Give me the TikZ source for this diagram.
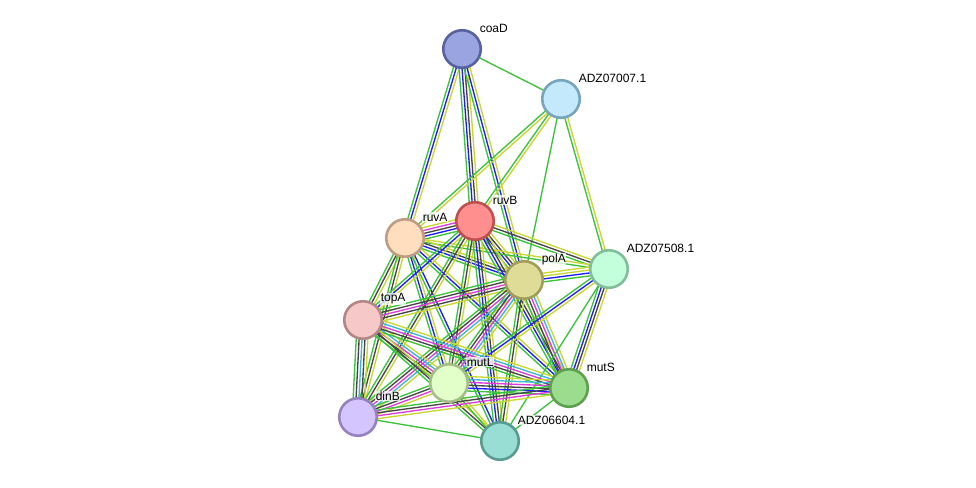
\documentclass[tikz,border=0pt]{standalone}
\usepackage{fontspec}
\newfontfamily\labfont{Liberation Sans}
\usetikzlibrary{calc,backgrounds}
\definecolor{eg}{RGB}{60,195,60}
\definecolor{eb}{RGB}{30,30,250}
\definecolor{ey}{RGB}{200,215,50}
\definecolor{ek}{RGB}{70,70,70}
\definecolor{em}{RGB}{220,60,220}
\definecolor{ec}{RGB}{60,180,220}
\definecolor{fcoaD}{RGB}{154,164,224}\definecolor{dcoaD}{RGB}{88,98,160}
\definecolor{fA7}{RGB}{196,233,252}\definecolor{dA7}{RGB}{120,165,190}
\definecolor{fruvB}{RGB}{255,142,142}\definecolor{druvB}{RGB}{190,80,80}
\definecolor{fruvA}{RGB}{255,222,192}\definecolor{druvA}{RGB}{190,158,128}
\definecolor{fpolA}{RGB}{222,220,150}\definecolor{dpolA}{RGB}{160,158,90}
\definecolor{fA5}{RGB}{196,255,220}\definecolor{dA5}{RGB}{130,190,155}
\definecolor{ftopA}{RGB}{246,200,200}\definecolor{dtopA}{RGB}{180,135,135}
\definecolor{fmutL}{RGB}{226,255,202}\definecolor{dmutL}{RGB}{165,190,135}
\definecolor{fmutS}{RGB}{156,220,142}\definecolor{dmutS}{RGB}{95,160,80}
\definecolor{fdinB}{RGB}{212,196,255}\definecolor{ddinB}{RGB}{150,130,190}
\definecolor{fA6}{RGB}{152,222,212}\definecolor{dA6}{RGB}{90,155,145}
\newcommand\bundle[4]{%
  \foreach \col [count=\i] in {#4}{%
    \pgfmathsetmacro\off{(\i-(#3+1)/2)*2.9}%
    \draw[\col, line width=1.35pt] ($(#1)!\off pt!90:(#2)$) -- ($(#2)!\off pt!-90:(#1)$);
  }}
\tikzset{
  prot/.style={circle, minimum size=37.5pt, inner sep=0pt, line width=2.6pt, fill=f#1, draw=d#1},
  lab/.style={anchor=west, font=\labfont\fontsize{12}{14}\selectfont, inner sep=0.6pt, fill=white, fill opacity=0.75, text opacity=1}
}
\begin{document}
\begin{tikzpicture}[x=1pt,y=-1pt]
\useasboundingbox (0,0) rectangle (976,487);
% nodes
\node[prot=coaD] (coaD) at (462,49) {};
\node[prot=A7] (A7) at (561,99) {};
\node[prot=ruvB] (ruvB) at (475,221) {};
\node[prot=ruvA] (ruvA) at (405,238) {};
\node[prot=polA] (polA) at (524,280) {};
\node[prot=A5] (A5) at (609,269) {};
\node[prot=topA] (topA) at (363,320) {};
\node[prot=mutL] (mutL) at (449,383) {};
\node[prot=mutS] (mutS) at (569,388) {};
\node[prot=dinB] (dinB) at (358,417) {};
\node[prot=A6] (A6) at (500,441) {};
% edges
\begin{pgfonlayer}{background}
\fill[white] (0,0) rectangle (976,487);
\bundle{coaD}{A7}{1}{eg}
\bundle{coaD}{ruvA}{3}{eg,eb,ey}
\bundle{coaD}{ruvB}{4}{eg,eb,ek,ey}
\bundle{coaD}{polA}{3}{eg,eb,ey}
\bundle{A7}{ruvA}{2}{eg,ey}
\bundle{A7}{ruvB}{2}{eg,ey}
\bundle{A7}{polA}{1}{eg}
\bundle{A7}{A5}{2}{eg,ey}
\bundle{ruvA}{ruvB}{5}{eg,eb,ek,em,ey}
\bundle{ruvB}{polA}{4}{eg,eb,ek,ey}
\bundle{ruvB}{A5}{3}{eg,ek,ey}
\bundle{ruvA}{A5}{2}{eg,ey}
\bundle{ruvA}{polA}{4}{eg,eb,ek,ey}
\bundle{ruvA}{topA}{3}{eg,ek,ey}
\bundle{ruvA}{dinB}{3}{eg,ek,ey}
\bundle{ruvA}{mutL}{3}{eg,eb,ey}
\bundle{ruvA}{mutS}{3}{eg,eb,ey}
\bundle{ruvA}{A6}{2}{eg,eb}
\bundle{ruvB}{topA}{3}{eg,eb,ey}
\bundle{ruvB}{dinB}{3}{eg,ek,ey}
\bundle{ruvB}{mutL}{3}{eg,ek,ey}
\bundle{ruvB}{mutS}{4}{eg,eb,ek,ey}
\bundle{ruvB}{A6}{4}{eg,eb,ek,ey}
\bundle{polA}{A5}{4}{eg,eb,ey,ey}
\bundle{polA}{topA}{5}{eg,ek,em,ek,ey}
\bundle{polA}{dinB}{5}{eg,ek,em,ec,ey}
\bundle{polA}{mutL}{5}{eg,ek,em,ec,ey}
\bundle{polA}{mutS}{5}{eg,ek,em,ec,ey}
\bundle{polA}{A6}{3}{eg,ek,ey}
\bundle{A5}{mutS}{4}{eg,eb,ek,ey}
\bundle{A5}{mutL}{3}{eg,eb,ey}
\bundle{A5}{A6}{1}{eg}
\bundle{topA}{dinB}{5}{eg,ek,ec,ek,ey}
\bundle{topA}{mutL}{5}{eg,ek,em,ec,ey}
\bundle{topA}{mutS}{5}{eg,ek,em,ec,ey}
\bundle{topA}{A6}{3}{eg,ek,ey}
\bundle{mutL}{mutS}{6}{eg,eb,ek,em,ec,ey}
\bundle{mutL}{dinB}{4}{eg,ek,em,ey}
\bundle{mutL}{A6}{2}{eg,ey}
\bundle{mutS}{dinB}{4}{eg,ek,em,ey}
\bundle{mutS}{A6}{1}{eg}
\bundle{dinB}{A6}{1}{eg}
\end{pgfonlayer}
% labels
\node[lab] (lcoaD) at ($(coaD)+(17,-21)$) {coaD};
\node[lab] (lA7) at ($(A7)+(17,-21)$) {ADZ07007.1};
\node[lab] (lruvB) at ($(ruvB)+(17,-21)$) {ruvB};
\node[lab] (lruvA) at ($(ruvA)+(17,-21)$) {ruvA};
\node[lab] (lpolA) at ($(polA)+(17,-21)$) {polA};
\node[lab] (lA5) at ($(A5)+(17,-21)$) {ADZ07508.1};
\node[lab] (ltopA) at ($(topA)+(17,-21)$) {topA};
\node[lab] (lmutL) at ($(mutL)+(17,-21)$) {mutL};
\node[lab] (lmutS) at ($(mutS)+(17,-21)$) {mutS};
\node[lab] (ldinB) at ($(dinB)+(17,-21)$) {dinB};
\node[lab] (lA6) at ($(A6)+(17,-21)$) {ADZ06604.1};
\end{tikzpicture}
\end{document}
